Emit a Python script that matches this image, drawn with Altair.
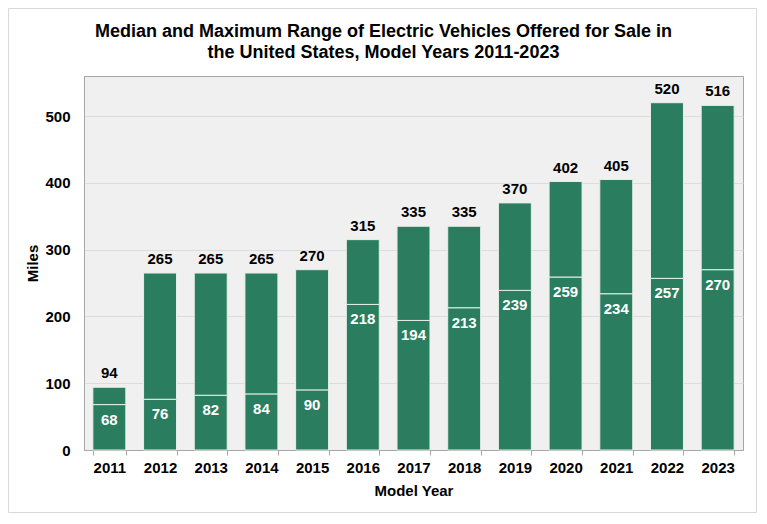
import altair as alt
import pandas as pd

# ===========================
# DADOS
# ===========================
anos = ["2011", "2012", "2013", "2014", "2015", "2016", "2017",
        "2018", "2019", "2020", "2021", "2022", "2023"]
maximo = [94, 265, 265, 265, 270, 315, 335, 335, 370, 402, 405, 520, 516]
mediana = [68, 76, 82, 84, 90, 218, 194, 213, 239, 259, 234, 257, 270]
ticks_y = [0, 100, 200, 300, 400, 500]

df = pd.DataFrame({"ano": anos, "maximo": maximo, "mediana": mediana})

FONTE = "Liberation Sans, Arial"
VERDE = "#2a7d5f"

x = alt.X("ano:N", title="Model Year",
          scale=alt.Scale(paddingInner=0.35, paddingOuter=0.175),
          axis=alt.Axis(labelAngle=0, tickBand="extent", tickSize=5,
                        labelPadding=5, titlePadding=8))
y_escala = alt.Scale(domain=[0, 560], nice=False)

base = alt.Chart(df)

# moldura externa (decorativa)
moldura = alt.Chart(pd.DataFrame({"a": [0]})).mark_rect(
    fill="transparent", stroke="#d9d9d9", strokeWidth=1
).encode(
    x=alt.value(-75.5), x2=alt.value(672.5),
    y=alt.value(-67.5), y2=alt.value(436.5)
)

# barra inferior (0 -> mediana)
barra_baixo = base.mark_bar(color=VERDE, stroke="#e6efe9", strokeWidth=1).encode(
    x=x,
    y=alt.Y("mediana:Q", title="Miles", scale=y_escala,
            axis=alt.Axis(values=ticks_y, ticks=False, labelPadding=14,
                          titleX=-44, grid=True))
)

# barra superior (mediana -> maximo)
barra_cima = base.mark_bar(color=VERDE, stroke="#e6efe9", strokeWidth=1).encode(
    x=x,
    y=alt.Y("mediana:Q", scale=y_escala),
    y2="maximo:Q"
)

rotulo_max = base.mark_text(baseline="bottom", dy=-6, font=FONTE,
                            fontSize=15, fontWeight="bold", color="black").encode(
    x=x, y=alt.Y("maximo:Q", scale=y_escala), text="maximo:Q"
)

rotulo_med = base.mark_text(baseline="top", dy=8, font=FONTE,
                            fontSize=15, fontWeight="bold", color="white").encode(
    x=x, y=alt.Y("mediana:Q", scale=y_escala), text="mediana:Q"
)

chart = alt.layer(moldura, barra_baixo, barra_cima, rotulo_max, rotulo_med).properties(
    width=659,
    height=374,
    autosize=alt.AutoSizeParams(type="none"),
    padding={"left": 76, "top": 68, "right": 14, "bottom": 63},
    title=alt.TitleParams(
        ["Median and Maximum Range of Electric Vehicles Offered for Sale in",
         "the United States, Model Years 2011-2023"],
        font=FONTE, fontSize=18, fontWeight="bold", color="black",
        lineHeight=21, anchor="middle", dx=-30, dy=66, offset=12
    )
).configure_view(
    fill="#f0f0f0", stroke="#a6a6a6", strokeWidth=1
).configure_axis(
    labelFont=FONTE, labelFontSize=15, labelFontWeight="bold", labelColor="black",
    titleFont=FONTE, titleFontSize=15, titleFontWeight="bold", titleColor="black",
    domainColor="#a6a6a6", tickColor="#a6a6a6", gridColor="#dcdcdc"
)

chart.save("out.html", embed_options={"renderer": "svg", "actions": False})
